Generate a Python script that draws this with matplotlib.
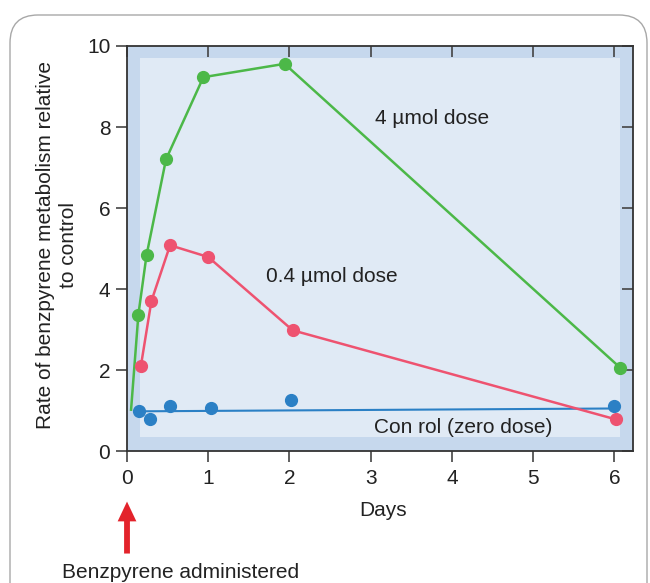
import matplotlib.pyplot as plt
from matplotlib.patches import Rectangle, FancyBboxPatch

plt.rcParams['font.family'] = ['Liberation Sans', 'DejaVu Sans']

# 4 umol dose
days_4 = [0.05, 0.14, 0.24, 0.48, 0.94, 1.94, 6.07]
rate_4 = [1.02, 3.37, 4.83, 7.2, 9.23, 9.56, 2.06]
# 0.4 umol dose
days_04 = [0.17, 0.30, 0.53, 1.0, 2.04, 6.02]
rate_04 = [2.09, 3.70, 5.08, 4.79, 2.98, 0.78]
# control (zero dose)
days_c = [0.15, 0.28, 0.53, 1.03, 2.02, 5.99]
rate_c = [1.0, 0.78, 1.12, 1.05, 1.27, 1.10]
# control trend line
fit_days = [0.15, 6.0]
fit_rate = [0.98, 1.05]

green = '#4cb848'
red = '#ee5370'
blue = '#2b80c5'
fs = 15

fig = plt.figure(figsize=(6.5, 5.83), dpi=100)

# rounded frame around the figure
frame = FancyBboxPatch((0.10, -0.5), 6.37, 6.18,
                       boxstyle='round,pad=0,rounding_size=0.28',
                       transform=fig.dpi_scale_trans, fc='white',
                       ec='#a8a8a8', lw=1.0, zorder=-10)
fig.patches.append(frame)

ax = fig.add_axes([0.1954, 0.2264, 0.7785, 0.6947])
ax.set_facecolor('#c6d8ed')
ax.add_patch(Rectangle((0.026, 0.035), 0.948, 0.935, transform=ax.transAxes,
                       fc='#e0eaf5', ec='none', zorder=0))

ax.plot(days_4, rate_4, color=green, lw=1.8, zorder=3)
ax.plot(days_4[1:], rate_4[1:], 'o', color=green, ms=8.5, zorder=4)
ax.plot(days_04, rate_04, '-o', color=red, lw=1.8, ms=8.5, zorder=3)
ax.plot(fit_days, fit_rate, color=blue, lw=1.5, zorder=2)
ax.plot(days_c, rate_c, 'o', color=blue, ms=8.5, zorder=4)

ax.set_xlim(0, 6.23)
ax.set_ylim(0, 10)
ax.set_xticks([0, 1, 2, 3, 4, 5, 6])
ax.set_yticks([0, 2, 4, 6, 8, 10])
ax.tick_params(axis='both', labelsize=fs, length=8, width=1.2,
               color='#444444', labelcolor='#222222', direction='out')
ax.tick_params(axis='x', pad=5)
ax.tick_params(axis='y', pad=4)
ax.tick_params(top=True, right=True, labeltop=False, labelright=False)
for t in ax.xaxis.get_major_ticks():
    t.tick2line.set_marker(3)
for t in ax.yaxis.get_major_ticks():
    t.tick2line.set_marker(0)
for s in ax.spines.values():
    s.set_color('#333333')
    s.set_linewidth(1.3)

ax.text(3.05, 8.22, '4 \u00b5mol dose', fontsize=fs, color='#222222', va='center')
ax.text(1.71, 4.3, '0.4 \u00b5mol dose', fontsize=fs, color='#222222', va='center')
ax.text(3.04, 0.57, 'Con rol (zero dose)', fontsize=fs, color='#222222', va='center')

fig.text(57 / 650, 1 - 245 / 583,
         'Rate of benzpyrene metabolism relative\nto control',
         rotation=90, ha='center', va='center', multialignment='center',
         fontsize=fs, color='#222222', linespacing=1.2)
fig.text(383 / 650, 1 - 510 / 583, 'Days', ha='center', va='center',
         fontsize=fs, color='#222222')
fig.text(181 / 650, 1 - 572 / 583, 'Benzpyrene administered', ha='center',
         va='center', fontsize=fs, color='#222222')

ax.annotate('', xy=(0, -0.118), xytext=(0, -0.26),
            xycoords=ax.get_xaxis_transform(),
            arrowprops=dict(arrowstyle='simple,head_length=0.95,head_width=0.9,tail_width=0.28',
                            mutation_scale=15, fc='#e3232b', ec='none'),
            annotation_clip=False)

fig.savefig('out.png', dpi=100)
